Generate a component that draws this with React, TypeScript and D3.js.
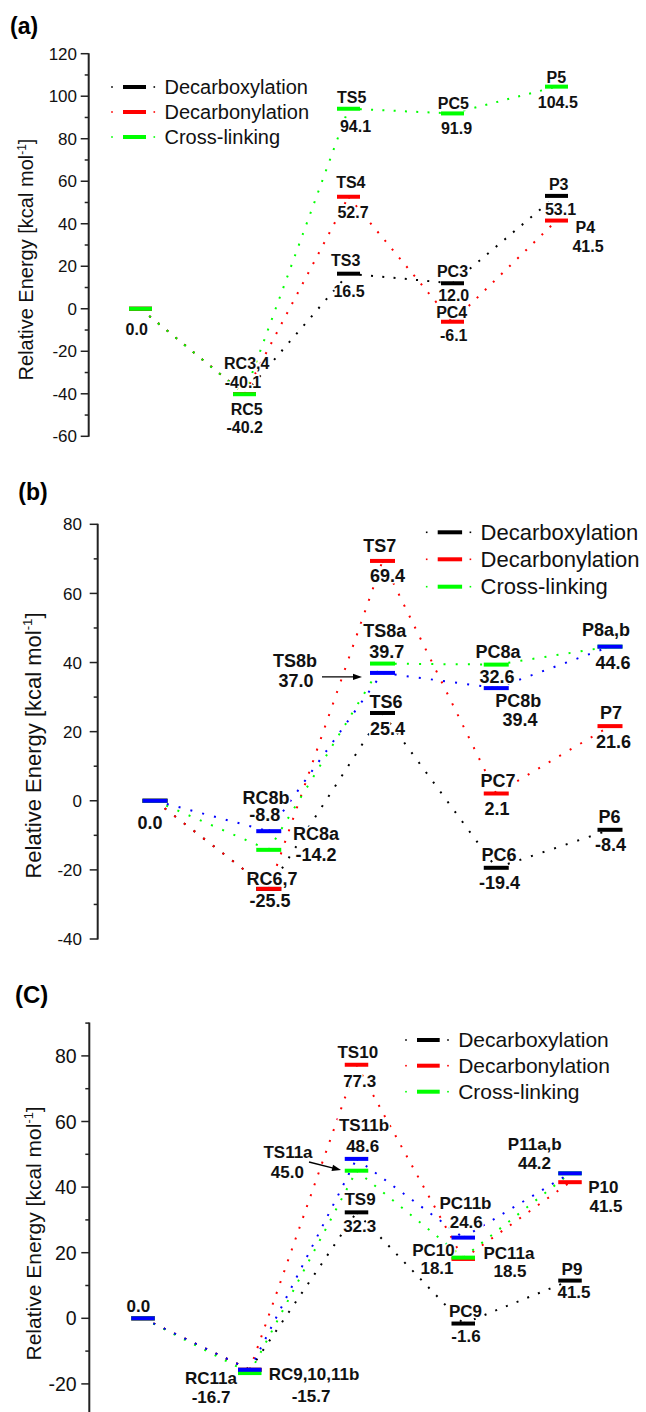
import React from "react";
import * as d3 from "d3";

const FONT = "'Liberation Sans', Arial, Helvetica, sans-serif";

// stage categories (x)
const stages = ["R", "RC", "TS", "PC", "P"];
const legendNames = ["Decarboxylation", "Decarbonylation", "Cross-linking"];
const legendColors = ["#000000", "#ff0000", "#00ff00"];

// ---------- Panel (a) ----------
const aDecarboxylation = [0.0, -40.1, 16.5, 12.0, 53.1];
const aDecarbonylation = [0.0, -40.1, 52.7, -6.1, 41.5];
const aCrossLinking = [0.0, -40.2, 94.1, 91.9, 104.5];
const aTicks = [-60, -40, -20, 0, 20, 40, 60, 80, 100, 120];
const aLabels: [string, number, number][] = [
  ["0.0", 0, 0.0],
  ["RC3,4", 1, -40.1], ["-40.1", 1, -40.1], ["RC5", 1, -40.2], ["-40.2", 1, -40.2],
  ["TS5", 2, 94.1], ["94.1", 2, 94.1], ["TS4", 2, 52.7], ["52.7", 2, 52.7],
  ["TS3", 2, 16.5], ["16.5", 2, 16.5],
  ["PC5", 3, 91.9], ["91.9", 3, 91.9], ["PC3", 3, 12.0], ["12.0", 3, 12.0],
  ["PC4", 3, -6.1], ["-6.1", 3, -6.1],
  ["P5", 4, 104.5], ["104.5", 4, 104.5], ["P3", 4, 53.1], ["53.1", 4, 53.1],
  ["P4", 4, 41.5], ["41.5", 4, 41.5],
];
const aOffsets: [number, number][] = [
  [-3.8, 26],
  [2.2, -25], [-1.5, -6.3], [2.2, 21], [0.2, 38.5],
  [3.2, -5.5], [7, 23.5], [2.3, -9], [4.5, 21],
  [-2.8, -8], [0.5, 23],
  [0.8, -4.5], [4, 20.5], [0, -6.6], [1.2, 17.4],
  [-0.8, -3.5], [1.2, 19.2],
  [-0.2, -4], [1.3, 21.6], [2.2, -6], [4, 19],
  [28.8, 12], [31.5, 31],
];

// ---------- Panel (b) ----------
const bDecarboxylation = [0.0, -25.5, 25.4, -19.4, -8.4];
const bDecarbonylation = [0.0, -25.5, 69.4, 2.1, 21.6];
const bCrossLinkingA = [0.0, -14.2, 39.7, 39.4, 44.6];
const bCrossLinkingB = [0.0, -8.8, 37.0, 32.6, 44.6];
const bTicks = [-40, -20, 0, 20, 40, 60, 80];
const bLabels: [string, number, number][] = [
  ["0.0", 0, 0.0],
  ["RC8b", 1, -8.8], ["-8.8", 1, -8.8], ["RC8a", 1, -14.2], ["-14.2", 1, -14.2],
  ["RC6,7", 1, -25.5], ["-25.5", 1, -25.5],
  ["TS7", 2, 69.4], ["69.4", 2, 69.4], ["TS8a", 2, 39.7], ["39.7", 2, 39.7],
  ["TS8b", 2, 37.0], ["37.0", 2, 37.0], ["TS6", 2, 25.4], ["25.4", 2, 25.4],
  ["PC8a", 3, 39.4], ["32.6", 3, 39.4], ["PC8b", 3, 32.6], ["39.4", 3, 32.6],
  ["PC7", 3, 2.1], ["2.1", 3, 2.1], ["PC6", 3, -19.4], ["-19.4", 3, -19.4],
  ["P8a,b", 4, 44.6], ["44.6", 4, 44.6], ["P7", 4, 21.6], ["21.6", 4, 21.6],
  ["P6", 4, -8.4], ["-8.4", 4, -8.4],
];
const bOffsets: [number, number][] = [
  [-5, 28],
  [-2.75, -27.6], [-4, -10], [47.25, -10], [47.25, 11],
  [3.25, -4], [1.25, 17.8],
  [-2.8, -9.2], [5, 20.8], [2.2, -26.9], [4.2, -5.3],
  [-87.5, -5.6], [-86.5, 13.8], [3.5, -5.2], [5, 22],
  [1.75, -6.3], [0.75, 18.1], [22, 19.2], [23.75, 37.9],
  [1.75, -6.2], [0.75, 21.5], [2.75, -6.8], [3.25, 21.5],
  [-4, -11], [3, 22.3], [1, -7.1], [3.5, 22.2],
  [-0.5, -6.5], [0.5, 20.9],
];

// ---------- Panel (c) ----------
const cDecarboxylation = [0.0, -15.7, 32.3, -1.6, 11.5];
const cDecarbonylation = [0.0, -15.7, 77.3, 18.1, 41.5];
const cCrossLinkingA = [0.0, -16.7, 45.0, 18.5, 44.2];
const cCrossLinkingB = [0.0, -15.7, 48.6, 24.6, 44.2];
const cTicks = [-20, 0, 20, 40, 60, 80];
const cLabels: [string, number, number][] = [
  ["0.0", 0, 0.0],
  ["RC11a", 1, -16.7], ["-16.7", 1, -16.7], ["RC9,10,11b", 1, -15.7], ["-15.7", 1, -15.7],
  ["TS10", 2, 77.3], ["77.3", 2, 77.3], ["TS11b", 2, 48.6], ["48.6", 2, 48.6],
  ["TS11a", 2, 45.0], ["45.0", 2, 45.0], ["TS9", 2, 32.3], ["32.3", 2, 32.3],
  ["PC11b", 3, 24.6], ["24.6", 3, 24.6], ["PC10", 3, 18.1], ["18.1", 3, 18.1],
  ["PC11a", 3, 18.5], ["18.5", 3, 18.5], ["PC9", 3, -1.6], ["-1.6", 3, -1.6],
  ["P11a,b", 4, 44.2], ["44.2", 4, 44.2], ["P10", 4, 41.5], ["41.5", 4, 41.5],
  ["P9", 4, 11.5], ["41.5", 4, 11.5],
];
const cOffsets: [number, number][] = [
  [-4.7, -6.6],
  [-38.75, 10.9], [-38.75, 30.2], [64.25, 10.2], [61.25, 31.9],
  [1.3, -6.5], [3.2, 22.5], [7.5, -28.2], [6.2, -6.6],
  [-68.5, -12.4], [-69.2, 7], [3.5, -7.4], [3.2, 19.3],
  [2.25, -28.3], [3, -9.3], [-29.75, -2.9], [-26.25, 15.1],
  [45.75, 1.7], [46.75, 19.7], [2.25, -6.3], [2.75, 18.1],
  [-35.2, -23.3], [-35.5, -4], [33.3, 11.1], [36, 29.5],
  [2, -5.6], [4, 17.7],
];

type Series = { values: number[]; color: string };
type Cfg = {
  title: string; titleX: number; titleY: number; titleSize: number;
  axisX: number; yDomain: [number, number]; yRange: [number, number];
  xRange: [number, number]; ticks: number[]; tickFont: number; tickLabelX: number;
  series: Series[]; barW: number; dash: string;
  labels: [string, number, number][]; offsets: [number, number][]; labelFont: number;
  legendX: number; legendRows: number[]; legendFont: number; legendLineW: number;
  ylabelX: number; ylabelY: number; ylabelFont: number;
  arrow?: { stage: number; value: number; x1: number; y1: number; x2: number; y2: number };
};

const panels: Cfg[] = [
  {
    title: "(a)", titleX: 10, titleY: 34, titleSize: 23,
    axisX: 88.7, yDomain: [-60, 120], yRange: [436.3, 53.7], xRange: [140.5, 556.5],
    ticks: aTicks, tickFont: 17, tickLabelX: 77,
    series: [
      { values: aDecarboxylation, color: "#000000" },
      { values: aDecarbonylation, color: "#ff0000" },
      { values: aCrossLinking, color: "#00ff00" },
    ],
    barW: 23, dash: "2 9.3",
    labels: aLabels, offsets: aOffsets, labelFont: 16,
    legendX: 112, legendRows: [87, 112, 137], legendFont: 20, legendLineW: 23,
    ylabelX: 33.3, ylabelY: 259.5, ylabelFont: 20,
  },
  {
    title: "(b)", titleX: 18.3, titleY: 500, titleSize: 23,
    axisX: 97.7, yDomain: [-40, 80], yRange: [939, 524.3], xRange: [155, 610],
    ticks: bTicks, tickFont: 17, tickLabelX: 82,
    series: [
      { values: bDecarboxylation, color: "#000000" },
      { values: bDecarbonylation, color: "#ff0000" },
      { values: bCrossLinkingA, color: "#00ff00" },
      { values: bCrossLinkingB, color: "#0000ff" },
    ],
    barW: 25, dash: "2 10.2",
    labels: bLabels, offsets: bOffsets, labelFont: 18,
    legendX: 426.7, legendRows: [532.3, 559.3, 586.7], legendFont: 22, legendLineW: 24.4,
    ylabelX: 40.7, ylabelY: 745.5, ylabelFont: 22,
    arrow: { stage: 2, value: 37.0, x1: -60.5, y1: 4, x2: -20.5, y2: 4 },
  },
  {
    title: "(C)", titleX: 15, titleY: 1003, titleSize: 24,
    axisX: 89.3, yDomain: [-30, 90], yRange: [1416.7, 1023.1], xRange: [143, 570],
    ticks: cTicks, tickFont: 19.5, tickLabelX: 76.7,
    series: [
      { values: cDecarboxylation, color: "#000000" },
      { values: cDecarbonylation, color: "#ff0000" },
      { values: cCrossLinkingA, color: "#00ff00" },
      { values: cCrossLinkingB, color: "#0000ff" },
    ],
    barW: 23.5, dash: "2 9.5",
    labels: cLabels, offsets: cOffsets, labelFont: 17,
    legendX: 406, legendRows: [1040, 1065.7, 1091.7], legendFont: 21, legendLineW: 22.7,
    ylabelX: 40.5, ylabelY: 1233.5, ylabelFont: 21,
    arrow: { stage: 2, value: 45.0, x1: -47.5, y1: -8.7, x2: -15.5, y2: -0.7 },
  },
];

function Panel({ cfg }: { cfg: Cfg }) {
  const x = d3.scalePoint<number>().domain(d3.range(stages.length)).range(cfg.xRange);
  const y = d3.scaleLinear().domain(cfg.yDomain).range(cfg.yRange);
  const line = d3.line<[number, number]>().x((d) => d[0]).y((d) => d[1]);
  const minor = d3.range(cfg.yDomain[0], cfg.yDomain[1] + 0.1, 10).filter((v) => !cfg.ticks.includes(v));
  const bar = 4;
  let arrowEl = null;
  if (cfg.arrow) {
    const a = cfg.arrow;
    const bx = x(a.stage)!, by = y(a.value);
    const x1 = bx + a.x1, y1 = by + a.y1, x2 = bx + a.x2, y2 = by + a.y2;
    const ang = Math.atan2(y2 - y1, x2 - x1);
    const L = 9, W = 3.2;
    const p1 = [x2 - L * Math.cos(ang) + W * Math.sin(ang), y2 - L * Math.sin(ang) - W * Math.cos(ang)];
    const p2 = [x2 - L * Math.cos(ang) - W * Math.sin(ang), y2 - L * Math.sin(ang) + W * Math.cos(ang)];
    arrowEl = (
      <g>
        <line x1={x1} y1={y1} x2={x2 - 6 * Math.cos(ang)} y2={y2 - 6 * Math.sin(ang)} stroke="#000" strokeWidth={1.3} />
        <polygon points={`${x2},${y2} ${p1[0]},${p1[1]} ${p2[0]},${p2[1]}`} fill="#000" />
      </g>
    );
  }
  return (
    <g>
      <text x={cfg.titleX} y={cfg.titleY} fontSize={cfg.titleSize} fontWeight="bold" fontFamily={FONT}>{cfg.title}</text>
      {/* y axis */}
      <line x1={cfg.axisX} x2={cfg.axisX} y1={y(cfg.yDomain[1]) - 0.5} y2={y(cfg.yDomain[0]) + 0.5} stroke="#222" strokeWidth={2} />
      {cfg.ticks.map((t) => (
        <g key={"t" + t}>
          <line x1={cfg.axisX - 8} x2={cfg.axisX} y1={y(t)} y2={y(t)} stroke="#222" strokeWidth={1.5} />
          <text x={cfg.tickLabelX} y={y(t)} dy="0.36em" textAnchor="end" fontSize={cfg.tickFont} fontFamily={FONT} fill="#111">{t}</text>
        </g>
      ))}
      {minor.map((t) => (
        <line key={"m" + t} x1={cfg.axisX - 4} x2={cfg.axisX} y1={y(t)} y2={y(t)} stroke="#222" strokeWidth={1.5} />
      ))}
      <text transform={`translate(${cfg.ylabelX},${cfg.ylabelY}) rotate(-90)`} textAnchor="middle" fontSize={cfg.ylabelFont} fontFamily={FONT} fill="#111">
        Relative Energy [kcal mol<tspan fontSize={cfg.ylabelFont * 0.6} dy={-cfg.ylabelFont * 0.38}>-1</tspan><tspan dy={cfg.ylabelFont * 0.38}>]</tspan>
      </text>
      {/* dotted connectors between stage centers */}
      {cfg.series.map((s, si) => (
        <g key={"l" + si}>
          {d3.range(stages.length - 1).map((i) => (
            <path key={i} d={line([[x(i)!, y(s.values[i])], [x(i + 1)!, y(s.values[i + 1])]])!}
              fill="none" stroke={s.color} strokeWidth={2} strokeDasharray={cfg.dash} />
          ))}
        </g>
      ))}
      {/* labels */}
      {cfg.labels.map((l, i) => (
        <text key={"lab" + i} x={x(l[1])! + cfg.offsets[i][0]} y={y(l[2]) + cfg.offsets[i][1]} textAnchor="middle"
          fontSize={cfg.labelFont} fontWeight="bold" fontFamily={FONT} fill="#111"
          stroke="#fff" strokeWidth={3} paintOrder="stroke" strokeLinejoin="round">{l[0]}</text>
      ))}
      {arrowEl}
      {/* energy level bars */}
      {cfg.series.map((s, si) => (
        <g key={"b" + si}>
          {s.values.map((v, i) => (
            <rect key={i} x={x(i)! - cfg.barW / 2} y={y(v) - bar / 2} width={cfg.barW} height={bar} fill={s.color} />
          ))}
        </g>
      ))}
      {/* legend */}
      {legendNames.map((n, i) => {
        const ry = cfg.legendRows[i];
        const lx = cfg.legendX;
        return (
          <g key={"lg" + i}>
            <rect x={lx - 0.8} y={ry - 0.8} width={1.6} height={1.6} fill={legendColors[i]} />
            <rect x={lx + 11} y={ry - 2} width={cfg.legendLineW} height={4} fill={legendColors[i]} />
            <rect x={lx + cfg.legendLineW + 18.5} y={ry - 0.8} width={1.6} height={1.6} fill={legendColors[i]} />
            <text x={lx + cfg.legendLineW + 29.5} y={ry + cfg.legendFont * 0.34} fontSize={cfg.legendFont} fontFamily={FONT} fill="#111">{n}</text>
          </g>
        );
      })}
    </g>
  );
}

export default function App() {
  return (
    <svg width={646} height={1412} style={{ position: "absolute", left: 0, top: 0, background: "#fff" }}>
      <rect width={646} height={1412} fill="#fff" />
      {panels.map((p, i) => <Panel key={i} cfg={p} />)}
    </svg>
  );
}
